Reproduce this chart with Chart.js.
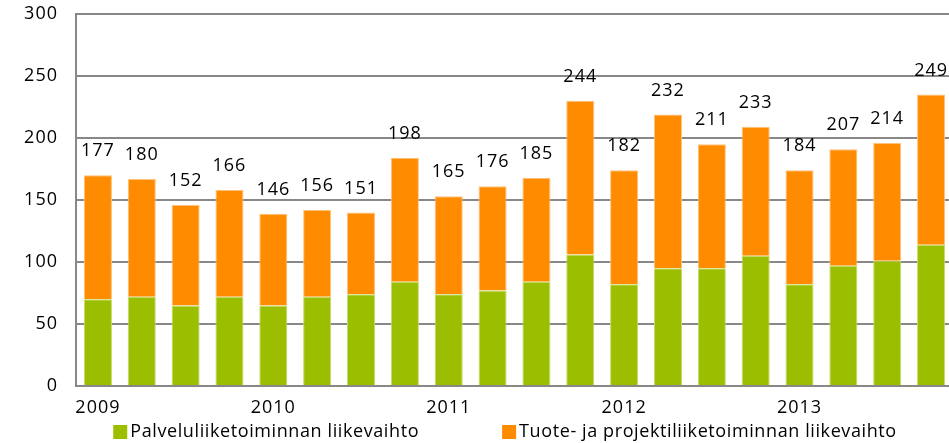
<!DOCTYPE html>
<html lang="fi">
<head>
<meta charset="UTF-8">
<title>Liikevaihto neljännesvuosittain</title>
<script src="https://cdn.jsdelivr.net/npm/chart.js"></script>
<style>
html, body { margin: 0; padding: 0; background: #fff; overflow: hidden; }
#wrap { width: 953px; height: 443px; }
</style>
</head>
<body>
<div id="wrap"><canvas id="salesChart"></canvas></div>
<script>
// neljännekset, vuosi näkyy vain Q1:n kohdalla
const quarters = ['2009','','','','2010','','','','2011','','','','2012','','','','2013','','',''];
const palvelu = [70, 72, 65, 72, 65, 72, 74, 84, 74, 77, 84, 106, 82, 95, 95, 105, 82, 97, 101, 114];
const tuote = [100, 95, 81, 86, 74, 70, 66, 100, 79, 84, 84, 124, 92, 124, 100, 104, 92, 94, 95, 121];
// pylväiden päällä olevat luvut (eivät täsmää pylväiden korkeuteen)
const totalLabels = [177, 180, 152, 166, 146, 156, 151, 198, 165, 176, 185, 244, 182, 232, 211, 233, 184, 207, 214, 249];
const yMin = 0, yMax = 300, yStep = 50;

const FONT = '"Open Sans", sans-serif';
const FONT_SIZE = 18;
const SPACING = '1px';

const spacingPlugin = {
  id: 'spacing',
  beforeDraw(chart) { chart.ctx.letterSpacing = SPACING; }
};

const totalsPlugin = {
  id: 'totals',
  afterDatasetsDraw(chart) {
    const ctx = chart.ctx;
    const meta = chart.getDatasetMeta(1);
    ctx.save();
    ctx.letterSpacing = SPACING;
    ctx.font = FONT_SIZE + 'px ' + FONT;
    ctx.fillStyle = '#000';
    ctx.textAlign = 'center';
    ctx.textBaseline = 'middle';
    meta.data.forEach((bar, i) => {
      ctx.fillText(String(totalLabels[i]), bar.x, bar.y - 24);
    });
    ctx.restore();
  }
};

const legendPlugin = {
  id: 'bottomLegend',
  afterDraw(chart) {
    const ctx = chart.ctx;
    const sets = chart.data.datasets;
    const box = 14, gapText = 3, gapItem = 83;
    ctx.save();
    ctx.letterSpacing = '0.6px';
    ctx.font = FONT_SIZE + 'px ' + FONT;
    const widths = sets.map(d => box + gapText + ctx.measureText(d.label).width);
    const total = widths.reduce((a, b) => a + b, 0) + gapItem * (sets.length - 1);
    let x = 505 - total / 2;
    const y = 432;
    sets.forEach((d, i) => {
      ctx.fillStyle = d.backgroundColor;
      ctx.fillRect(x, y - box / 2, box, box);
      ctx.fillStyle = '#000';
      ctx.textAlign = 'left';
      ctx.textBaseline = 'middle';
      ctx.fillText(d.label, x + box + gapText, y);
      x += widths[i] + gapItem;
    });
    ctx.restore();
  }
};

new Chart(document.getElementById('salesChart'), {
  type: 'bar',
  data: {
    labels: quarters,
    datasets: [
      {
        label: 'Palveluliiketoiminnan liikevaihto',
        data: palvelu,
        backgroundColor: '#9BBF00',
        borderColor: '#C4DA66',
        borderWidth: 1
      },
      {
        label: 'Tuote- ja projektiliiketoiminnan liikevaihto',
        data: tuote,
        backgroundColor: '#FF8C00',
        borderColor: '#FFC27A',
        borderWidth: 1
      }
    ]
  },
  options: {
    responsive: true,
    maintainAspectRatio: false,
    animation: false,
    layout: { padding: { top: 14, bottom: 26, left: 0, right: 0 } },
    datasets: { bar: { categoryPercentage: 1, barPercentage: 0.64 } },
    plugins: {
      legend: { display: false },
      tooltip: { enabled: false }
    },
    scales: {
      x: {
        stacked: true,
        grid: { display: false, drawTicks: false },
        border: { display: true, color: '#888', width: 2 },
        ticks: {
          color: '#000',
          font: { family: FONT, size: FONT_SIZE },
          padding: 11,
          maxRotation: 0,
          autoSkip: false
        },
        afterFit(scale) {
          scale.height = 31;
          scale.paddingLeft = 0;
          scale.paddingRight = 0;
        }
      },
      y: {
        stacked: true,
        min: yMin,
        max: yMax,
        grid: { color: '#888', lineWidth: 2, drawTicks: false },
        border: { display: true, color: '#888', width: 2 },
        ticks: {
          stepSize: yStep,
          color: '#000',
          font: { family: FONT, size: FONT_SIZE },
          padding: 18
        },
        afterFit(scale) {
          scale.width = 76;
          scale.paddingTop = 0;
          scale.paddingBottom = 0;
        }
      }
    }
  },
  plugins: [spacingPlugin, totalsPlugin, legendPlugin]
});
</script>
</body>
</html>
